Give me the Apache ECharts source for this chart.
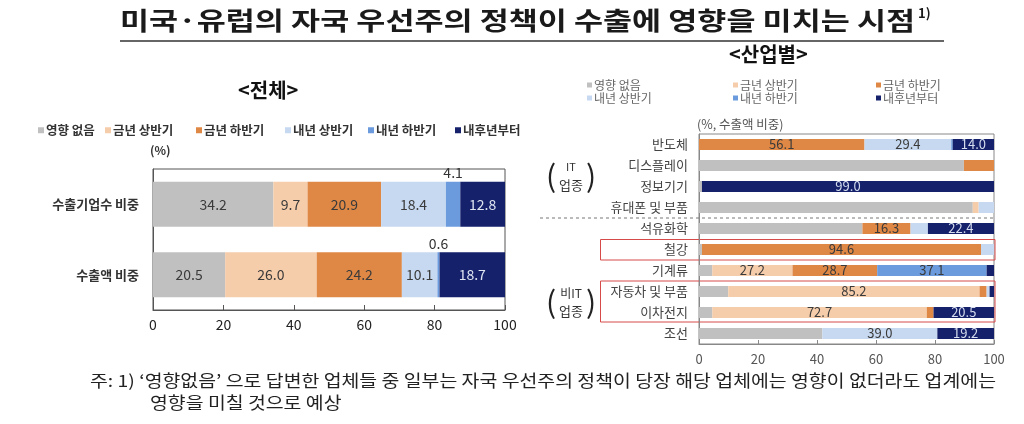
<!DOCTYPE html>
<html><head><meta charset="utf-8">
<script src="https://cdn.jsdelivr.net/npm/echarts@6/dist/echarts.min.js"></script>
<style>html,body{margin:0;padding:0;background:#fff}#c{width:1024px;height:424px}</style>
</head><body><div id="c"></div>
<script>
const FONT = '"Noto Sans CJK KR", "Noto Sans", sans-serif';
const seriesNames = ['영향 없음','금년 상반기','금년 하반기','내년 상반기','내년 하반기','내후년부터'];
const colors = ['#c0c0c0','#f6cdab','#df8846','#c7d9f0','#6b9bdc','#15216b'];

const leftCats = ['수출기업수 비중','수출액 비중'];
const leftNoImpact = [34.2, 20.5];
const leftThisH1   = [9.7, 26.0];
const leftThisH2   = [20.9, 24.2];
const leftNextH1   = [18.4, 10.1];
const leftNextH2   = [4.1, 0.6];
const leftLater    = [12.8, 18.7];

const rightCats = ['반도체','디스플레이','정보기기','휴대폰 및 부품','석유화학','철강','기계류','자동차 및 부품','이차전지','조선'];
const rightNoImpact = [0, 89.8, 1.0, 92.8, 55.4, 1.0, 4.5, 9.9, 4.5, 41.8];
const rightThisH1   = [0, 0, 0, 2.0, 0, 0, 27.2, 85.2, 72.7, 0];
const rightThisH2   = [56.1, 10.2, 0, 0, 16.3, 94.6, 28.7, 2.4, 2.3, 0];
const rightNextH1   = [29.4, 0, 0, 5.2, 5.9, 4.4, 0, 1.0, 0, 39.0];
const rightNextH2   = [0.5, 0, 0, 0, 0, 0, 37.1, 0, 0, 0];
const rightLater    = [14.0, 0, 99.0, 0, 22.4, 0, 2.5, 1.5, 20.5, 19.2];

const xTicks = [0, 20, 40, 60, 80, 100];

const leftSets = [leftNoImpact, leftThisH1, leftThisH2, leftNextH1, leftNextH2, leftLater];
const rightSets = [rightNoImpact, rightThisH1, rightThisH2, rightNextH1, rightNextH2, rightLater];

const chart = echarts.init(document.getElementById('c'), null, {renderer:'canvas'});

const series = [];
leftSets.forEach((arr, i) => {
  series.push({
    name: seriesNames[i], type:'bar', stack:'L', xAxisIndex:0, yAxisIndex:0,
    barWidth: 45, itemStyle:{color: colors[i]},
    data: arr.map(v => ({value: v, label: v < 5 ? {position:'top', distance: 2, color:'#333'} : {position:'inside'}})),
    label: {show:true, fontFamily: FONT, fontSize: 14, color: i===5 ? '#dfe6f2' : '#3a3a3a',
      formatter: p => p.value > 0 ? p.value.toFixed(1) : ''}
  });
});
rightSets.forEach((arr, i) => {
  series.push({
    name: seriesNames[i], type:'bar', stack:'R', xAxisIndex:1, yAxisIndex:1,
    barWidth: 11, itemStyle:{color: colors[i]},
    data: arr.slice(),
    label: {show:true, position:'inside', fontFamily: FONT, fontSize: 13, color: i===5 ? '#d5ddee' : '#3a3a3a',
      formatter: p => (i > 0 && p.value >= 12) ? p.value.toFixed(1) : ''}
  });
});

function legendItem(name, left, top, fs, color, weight, iw) {
  return {data:[name], left: left, top: top, itemWidth: iw, itemHeight: iw, icon:'rect', itemGap: 0,
    padding: 0, selectedMode: false,
    textStyle:{fontFamily: FONT, fontSize: fs, color: color, fontWeight: weight, padding:[0,0,0,-3]}};
}
const legends = [];
const leftLegX = [38, 105, 196, 285, 368, 455];
seriesNames.forEach((n, i) => legends.push(legendItem(n, leftLegX[i], 124, 12.5, '#333', 'bold', 6)));
const rightLegX = [587, 733, 876];
seriesNames.forEach((n, i) => legends.push(legendItem(n, rightLegX[i % 3], i < 3 ? 79 : 92, 12, '#666', 'normal', 5)));

const option = {
  animation: false,
  legend: legends,
  grid: [
    {left: 153, right: 519, top: 169, bottom: 114, show: true, borderColor: '#555', borderWidth: 1},
    {left: 699, right: 30, top: 134, bottom: 80, show: true, borderColor: '#888', borderWidth: 1}
  ],
  xAxis: [
    {gridIndex:0, type:'value', min: xTicks[0], max: xTicks[xTicks.length-1], interval: 20, splitLine:{show:false},
     axisLine:{show:true, lineStyle:{color:'#555'}}, axisTick:{show:true, inside:true, length:5, lineStyle:{color:'#555'}},
     axisLabel:{fontFamily: FONT, fontSize: 14, color:'#222', margin: 8}},
    {gridIndex:1, type:'value', min: xTicks[0], max: xTicks[xTicks.length-1], interval: 20, splitLine:{show:false},
     axisLine:{show:true, lineStyle:{color:'#888'}}, axisTick:{show:true, inside:true, length:4, lineStyle:{color:'#888'}},
     axisLabel:{fontFamily: FONT, fontSize: 13, color:'#555', margin: 9}}
  ],
  yAxis: [
    {gridIndex:0, type:'category', data: leftCats, inverse:true, axisTick:{show:false},
     axisLine:{show:true, lineStyle:{color:'#555'}},
     axisLabel:{fontFamily: FONT, fontSize: 13, color:'#333', fontWeight:'bold', margin: 14}},
    {gridIndex:1, type:'category', data: rightCats, inverse:true, axisTick:{show:false},
     axisLine:{show:true, lineStyle:{color:'#888'}},
     axisLabel:{fontFamily: FONT, fontSize: 13, color:'#444', margin: 11}}
  ],
  series: series
};
chart.setOption(option);

// measure helper for fitting wide text blocks
const mctx = document.createElement('canvas').getContext('2d');
function fitScale(text, font, width) { mctx.font = font; return width / mctx.measureText(text).width; }

const yTop = (idx) => chart.convertToPixel({yAxisIndex:1}, rightCats[idx]);
const rowH = yTop(1) - yTop(0);
const xR = chart.convertToPixel({xAxisIndex:1}, 100);
const sepY = (yTop(3) + yTop(4)) / 2;
const b1t = yTop(5) - rowH/2 + 0.5, b1b = yTop(5) + rowH/2;
const b2t = yTop(7) - rowH/2, b2b = yTop(8) + rowH/2 - 1;
const itMid = (yTop(1) + yTop(2)) / 2;
const nitMid = (yTop(7) + yTop(8)) / 2;

const titleText = '미국·유럽의 자국 우선주의 정책이 수출에 영향을 미치는 시점';
const titleFont = 'bold 25px ' + FONT;
const titleScale = fitScale(titleText, titleFont, 795);
const foot1 = "주: 1) ‘영향없음’ 으로 답변한 업체들 중 일부는 자국 우선주의 정책이 당장 해당 업체에는 영향이 없더라도 업계에는";
const foot2 = '영향을 미칠 것으로 예상';
const footFont = '16.5px ' + FONT;
const footScale = fitScale(foot1, footFont, 906);

chart.setOption({
  graphic: [
    {type:'text', x: 120, y: 8, scaleX: titleScale, style:{text: titleText, font: titleFont, fill:'#1a1a1a'}},
    {type:'text', x: 918, y: 7, style:{text: '1)', font: 'bold 13px ' + FONT, fill:'#1a1a1a'}},
    {type:'line', shape:{x1:120, y1:41, x2:944, y2:41}, style:{stroke:'#333', lineWidth:1.5}},
    {type:'text', left: 238, top: 80, style:{text:'<전체>', font:'bold 20px ' + FONT, fill:'#111'}},
    {type:'text', left: 729, top: 44, style:{text:'<산업별>', font:'bold 20px ' + FONT, fill:'#111'}},
    {type:'text', left: 150, top: 144, style:{text:'(%)', font:'bold 12px ' + FONT, fill:'#333'}},
    {type:'text', left: 697, top: 118, style:{text:'(%, 수출액 비중)', font:'12.5px ' + FONT, fill:'#555'}},
    {type:'line', shape:{x1:540, y1:sepY, x2:xR, y2:sepY}, style:{stroke:'#777', lineWidth:1, lineDash:[3,3]}},
    {type:'rect', shape:{x:600.5, y:b1t, width:xR+1-600.5, height:b1b-b1t}, style:{fill:'none', stroke:'#d64a4a', lineWidth:1}},
    {type:'rect', shape:{x:600.5, y:b2t, width:xR+1-600.5, height:b2b-b2t}, style:{fill:'none', stroke:'#d64a4a', lineWidth:1}},
    {type:'text', x:551, y:itMid, style:{text:'(', font:'30px ' + FONT, fill:'#222', align:'center', verticalAlign:'middle'}},
    {type:'text', x:571, y:itMid-9, style:{text:'IT', font:'11px ' + FONT, fill:'#333', align:'center', verticalAlign:'middle'}},
    {type:'text', x:571, y:itMid+9, style:{text:'업종', font:'13px ' + FONT, fill:'#333', align:'center', verticalAlign:'middle'}},
    {type:'text', x:591, y:itMid, style:{text:')', font:'30px ' + FONT, fill:'#222', align:'center', verticalAlign:'middle'}},
    {type:'text', x:551, y:nitMid, style:{text:'(', font:'30px ' + FONT, fill:'#222', align:'center', verticalAlign:'middle'}},
    {type:'text', x:571, y:nitMid-9, style:{text:'비IT', font:'12px ' + FONT, fill:'#333', align:'center', verticalAlign:'middle'}},
    {type:'text', x:571, y:nitMid+9, style:{text:'업종', font:'13px ' + FONT, fill:'#333', align:'center', verticalAlign:'middle'}},
    {type:'text', x:591, y:nitMid, style:{text:')', font:'30px ' + FONT, fill:'#222', align:'center', verticalAlign:'middle'}},
    {type:'text', x: 90, y: 372, scaleX: footScale, style:{text: foot1, font: footFont, fill:'#222'}},
    {type:'text', x: 150, y: 394, scaleX: footScale, style:{text: foot2, font: footFont, fill:'#222'}}
  ]
});
</script></body></html>
